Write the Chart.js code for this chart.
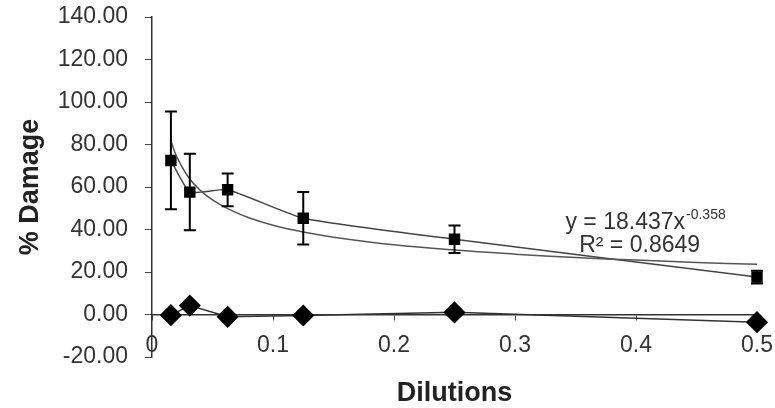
<!DOCTYPE html>
<html>
<head>
<meta charset="utf-8">
<script src="https://cdn.jsdelivr.net/npm/chart.js@4/dist/chart.umd.min.js"></script>
<style>
    html, body { margin: 0; padding: 0; background: #fff; }
    #wrap { width: 775px; height: 408px; position: relative; }
</style>
</head>
<body>
<div id="wrap"><canvas id="chart"></canvas></div>
<script>
// Dilution levels (x) and measured % damage
const dilutions = [0.015625, 0.03125, 0.0625, 0.125, 0.25, 0.5];
const damage = [72.5, 57.6, 58.7, 45.3, 35.4, 17.6];
const damageErr = [23, 18, 7.7, 12.3, 6.5, 3];
const control = [-0.3, 4.2, -1.1, -0.5, 1.0, -3.6];

// Power trendline
const trendX = [0.015625, 0.02, 0.03, 0.04, 0.05, 0.0625, 0.08, 0.1, 0.125, 0.15, 0.2, 0.25, 0.3, 0.35, 0.4, 0.45, 0.5];
const trendY = [81.7, 74.8, 64.7, 58.4, 53.9, 49.8, 45.5, 42.0, 38.8, 36.4, 32.8, 30.3, 28.4, 26.8, 25.6, 24.5, 23.6];

// Axis ticks
const xTicks = [0, 0.1, 0.2, 0.3, 0.4, 0.5];
const yTicks = [-20, 0, 20, 40, 60, 80, 100, 120, 140];

const equationText = 'y = 18.437x';
const exponentText = '-0.358';
const r2Text = 'R\u00b2 = 0.8649';

const FONT = "'Liberation Sans', Arial, sans-serif";

function pts(xs, ys) {
    return xs.map((x, i) => ({ x: x, y: ys[i] }));
}

// Error bars on the damage series
const errorBars = {
    id: 'errorBars',
    afterDatasetsDraw(chart) {
        const meta = chart.getDatasetMeta(1);
        const xs = chart.scales.x, ys = chart.scales.y;
        const c = chart.ctx;
        c.save();
        c.strokeStyle = '#000';
        c.lineWidth = 2;
        meta.data.forEach((pt, i) => {
            const px = xs.getPixelForValue(dilutions[i]);
            const top = ys.getPixelForValue(damage[i] + damageErr[i]);
            const bot = ys.getPixelForValue(damage[i] - damageErr[i]);
            c.beginPath();
            c.moveTo(px, top); c.lineTo(px, bot);
            c.moveTo(px - 6, top); c.lineTo(px + 6, top);
            c.moveTo(px - 6, bot); c.lineTo(px + 6, bot);
            c.stroke();
        });
        c.restore();
    }
};

// Trendline equation label
const trendLabel = {
    id: 'trendLabel',
    afterDraw(chart) {
        const xs = chart.scales.x, ys = chart.scales.y;
        const c = chart.ctx;
        c.save();
        c.fillStyle = '#333';
        c.textBaseline = 'middle';
        c.font = '23px ' + FONT;
        const ex = xs.getPixelForValue(0.4405);
        const ey = ys.getPixelForValue(43.4);
        c.textAlign = 'right';
        c.fillText(equationText, ex, ey);
        c.textAlign = 'left';
        c.font = '14px ' + FONT;
        c.fillText(exponentText, ex + 1, ey - 7);
        c.font = '23px ' + FONT;
        c.textAlign = 'center';
        c.fillText(r2Text, xs.getPixelForValue(0.403), ys.getPixelForValue(32.5));
        c.restore();
    }
};

new Chart(document.getElementById('chart'), {
    type: 'scatter',
    data: {
        datasets: [{
            label: 'Power trend',
            data: pts(trendX, trendY),
            showLine: true,
            borderColor: '#555',
            borderWidth: 1.5,
            pointRadius: 0,
            tension: 0.4,
            clip: false
        }, {
            label: '% Damage',
            data: pts(dilutions, damage),
            showLine: true,
            borderColor: '#444',
            borderWidth: 1.5,
            tension: 0.15,
            pointStyle: 'rect',
            pointRadius: 7,
            pointBackgroundColor: '#000',
            pointBorderColor: '#000',
            clip: false
        }, {
            label: 'Control',
            data: pts(dilutions, control),
            showLine: true,
            borderColor: '#333',
            borderWidth: 1.5,
            pointStyle: 'rectRot',
            pointRadius: 10,
            pointBackgroundColor: '#000',
            pointBorderColor: '#000',
            clip: false
        }]
    },
    options: {
        responsive: true,
        maintainAspectRatio: false,
        animation: false,
        layout: {
            padding: { top: 17, right: 18, bottom: 51, left: 0 }
        },
        plugins: {
            legend: { display: false },
            tooltip: { enabled: false }
        },
        scales: {
            x: {
                type: 'linear',
                min: 0,
                max: 0.5,
                position: { y: 0 },
                afterBuildTicks: function(scale) {
                    scale.ticks = xTicks.map(v => ({ value: v }));
                },
                afterFit: function(scale) {
                    scale.paddingLeft = 0;
                    scale.paddingRight = 0;
                },
                grid: {
                    display: true,
                    drawOnChartArea: false,
                    tickLength: 5,
                    color: '#444'
                },
                border: { display: true, color: '#333', width: 1.5 },
                ticks: {
                    color: '#333',
                    padding: 12,
                    maxRotation: 0,
                    font: { family: FONT, size: 23 },
                    callback: function(v) { return String(v); }
                },
                title: {
                    display: true,
                    text: 'Dilutions',
                    color: '#222',
                    font: { family: FONT, size: 27, weight: 'bold' },
                    padding: { top: 6, bottom: 0 }
                }
            },
            y: {
                min: -20,
                max: 140,
                afterBuildTicks: function(scale) {
                    scale.ticks = yTicks.map(v => ({ value: v }));
                },
                afterFit: function(scale) {
                    scale.width = 152;
                    scale.paddingTop = 0;
                    scale.paddingBottom = 0;
                },
                grid: {
                    display: true,
                    drawOnChartArea: false,
                    tickLength: 7,
                    color: '#444'
                },
                border: { display: true, color: '#333', width: 1.5 },
                ticks: {
                    color: '#333',
                    padding: 17,
                    font: { family: FONT, size: 23 },
                    callback: function(v) { return v.toFixed(2); }
                },
                title: {
                    display: true,
                    text: '% Damage',
                    color: '#222',
                    font: { family: FONT, size: 27, weight: 'bold' },
                    padding: { top: 14, bottom: 0 }
                }
            }
        }
    },
    plugins: [errorBars, trendLabel]
});
</script>
</body>
</html>
